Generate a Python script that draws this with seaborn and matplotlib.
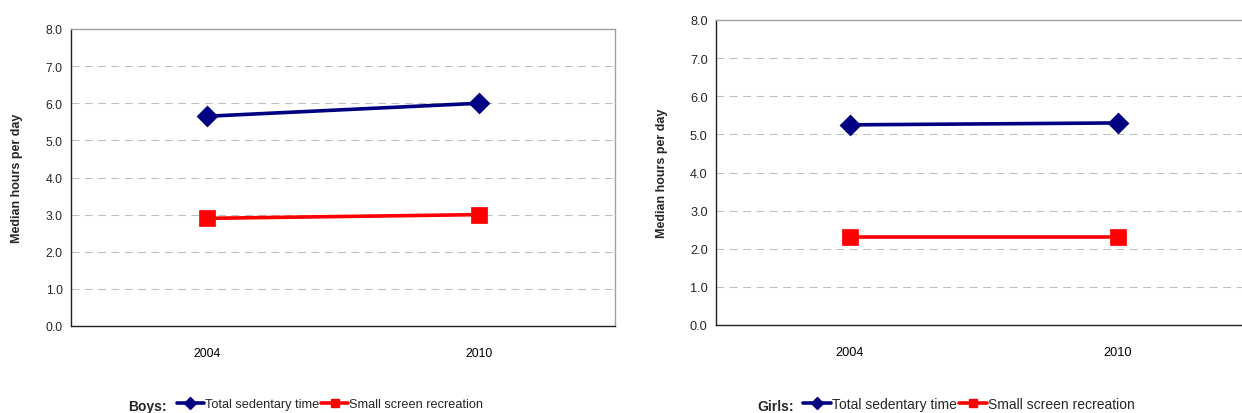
import matplotlib
matplotlib.use("Agg")
import matplotlib.pyplot as plt
from matplotlib.lines import Line2D
from matplotlib.ticker import FixedLocator, FormatStrFormatter
import pandas as pd
import seaborn as sns

years = ["2004", "2010"]
series_names = ["Total sedentary time", "Small screen recreation"]
boys_total = [5.65, 6.0]
boys_screen = [2.9, 3.0]
girls_total = [5.25, 5.3]
girls_screen = [2.3, 2.3]
y_label = "Median hours per day"

colors = ["#000080", "#FF0000"]
markers = ["D", "s"]

sns.set_style("white")
plt.rcParams["font.family"] = ["Liberation Sans", "DejaVu Sans"]


def long_table(total, screen):
    rows = []
    for name, vals in zip(series_names, [total, screen]):
        for yr, v in zip(years, vals):
            rows.append({"year": yr, "hours": v, "series": name})
    return pd.DataFrame(rows)


fig = plt.figure(figsize=(12.42, 4.14), dpi=100)
ax_boys = fig.add_axes([71 / 1242, 1 - 327 / 414, (615 - 71) / 1242, (327 - 30) / 414])
ax_girls = fig.add_axes([716 / 1242, 1 - 326 / 414, (1252 - 716) / 1242, (326 - 21) / 414])


def draw(ax, total, screen, tick_size):
    df = long_table(total, screen)
    sns.pointplot(data=df, x="year", y="hours", hue="series", hue_order=series_names,
                  palette=colors, markers=markers, linestyles=["-", "-"],
                  markersize=9.5, linewidth=2.6, ax=ax, legend=False, errorbar=None)
    ax.set_ylim(0, 8)
    ax.set_xlim(-0.5, 1.5)
    ax.yaxis.set_major_locator(FixedLocator([i for i in range(9)]))
    ax.yaxis.set_major_formatter(FormatStrFormatter("%.1f"))
    for yv in range(1, 8):
        ax.axhline(yv, color="#c0c0c0", lw=0.8, ls=(0, (7, 5)), zorder=0)
    ax.xaxis.set_minor_locator(FixedLocator([-0.5, 0.5, 1.5]))
    ax.tick_params(axis="x", which="major", length=0, pad=15, labelsize=tick_size, colors="#000000")
    ax.tick_params(axis="x", which="minor", length=4, width=0.8, direction="out", color="#000000")
    ax.tick_params(axis="y", which="major", length=4, width=0.8, direction="out",
                   labelsize=tick_size, pad=2, color="#000000")
    ax.set_xlabel("")
    ax.set_ylabel(y_label, fontsize=9, fontweight="bold", labelpad=16)
    for s in ["left", "bottom"]:
        ax.spines[s].set_color("#202020")
        ax.spines[s].set_linewidth(1.0)
        ax.spines[s].set_visible(True)
    for s in ["top", "right"]:
        ax.spines[s].set_color("#a0a0a0")
        ax.spines[s].set_linewidth(1.0)
        ax.spines[s].set_visible(True)


draw(ax_boys, boys_total, boys_screen, 8.8)
draw(ax_girls, girls_total, girls_screen, 9.2)

handles = [Line2D([], [], color=c, marker=m, lw=2.6, markersize=6)
           for c, m in zip(colors, markers)]

legend_rows = [("Boys:", 128 / 1242, 177 / 1242, 9.2, 2.1),
               ("Girls:", 757 / 1242, 803 / 1242, 10.0, 2.0)]
for title, tx, lx, fs, hl in legend_rows:
    fig.text(tx, 1 - 407 / 414, title, fontsize=10, fontweight="bold", va="center", ha="left")
    fig.legend(handles, series_names, loc="center left", bbox_to_anchor=(lx, 1 - 405 / 414),
               ncol=2, frameon=False, fontsize=fs, handlelength=hl, handletextpad=0.1,
               columnspacing=0.15, borderpad=0, borderaxespad=0)

fig.savefig("out.png", dpi=100)
